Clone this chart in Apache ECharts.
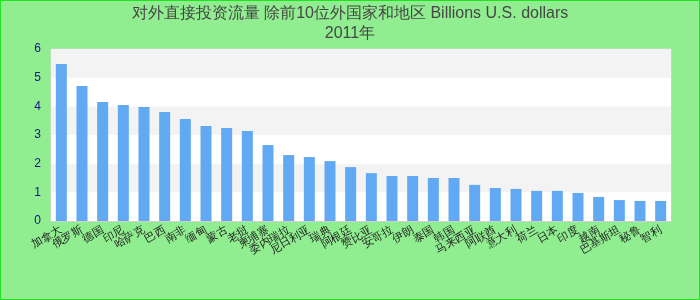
<!DOCTYPE html>
<html><head><meta charset="utf-8">
<script src="https://cdn.jsdelivr.net/npm/echarts@6/dist/echarts.min.js"></script>
<style>html,body{margin:0;padding:0;}#c{width:698px;height:298px;border:1px solid #22e322;background:#90ee90;}</style>
</head><body><div id="c"></div>
<script>
const titleText = '对外直接投资流量 除前10位外国家和地区 Billions U.S. dollars\n2011年';
const categories = ['加拿大','俄罗斯','德国','印尼','哈萨克','巴西','南非','缅甸','蒙古','老挝',
  '柬埔寨','委内瑞拉','尼日利亚','瑞典','阿根廷','赞比亚','安哥拉','伊朗','泰国','韩国',
  '马来西亚','阿联酋','意大利','荷兰','日本','印度','越南','巴基斯坦','秘鲁','智利'];
const values = [5.48,4.71,4.15,4.05,3.98,3.80,3.56,3.31,3.24,3.14,
  2.65,2.30,2.23,2.09,1.88,1.67,1.57,1.57,1.50,1.50,
  1.26,1.15,1.12,1.05,1.05,0.98,0.84,0.73,0.70,0.70];
const yTicks = {min:0, max:6, interval:1};

const chart = echarts.init(document.getElementById('c'));
chart.setOption({
  animation:false,
  backgroundColor:'#90ee90',
  title:{text:titleText,left:'center',top:-2,
    textStyle:{fontSize:16,fontWeight:'normal',color:'#464646',lineHeight:20,fontFamily:'Liberation Sans, Arial, sans-serif'}},
  grid:{left:50,right:28,top:48,bottom:78,show:true,borderColor:'#d6d6d6',borderWidth:1,backgroundColor:'#fff'},
  xAxis:{type:'category',data:categories,
    axisLine:{lineStyle:{color:'#d0d0d0'}},axisTick:{show:false},
    axisLabel:{interval:0,rotate:30,fontSize:11,color:'#222',margin:8}},
  yAxis:{type:'value',min:yTicks.min,max:yTicks.max,interval:yTicks.interval,
    axisLine:{show:false},axisTick:{show:false},splitLine:{show:false},
    splitArea:{show:true,areaStyle:{color:['#ffffff','#f3f3f3']}},
    axisLabel:{color:'#14148c',fontSize:12,margin:10}},
  series:[{type:'bar',data:values,barWidth:11,itemStyle:{color:'#62a9f3'}}]
});
</script></body></html>
